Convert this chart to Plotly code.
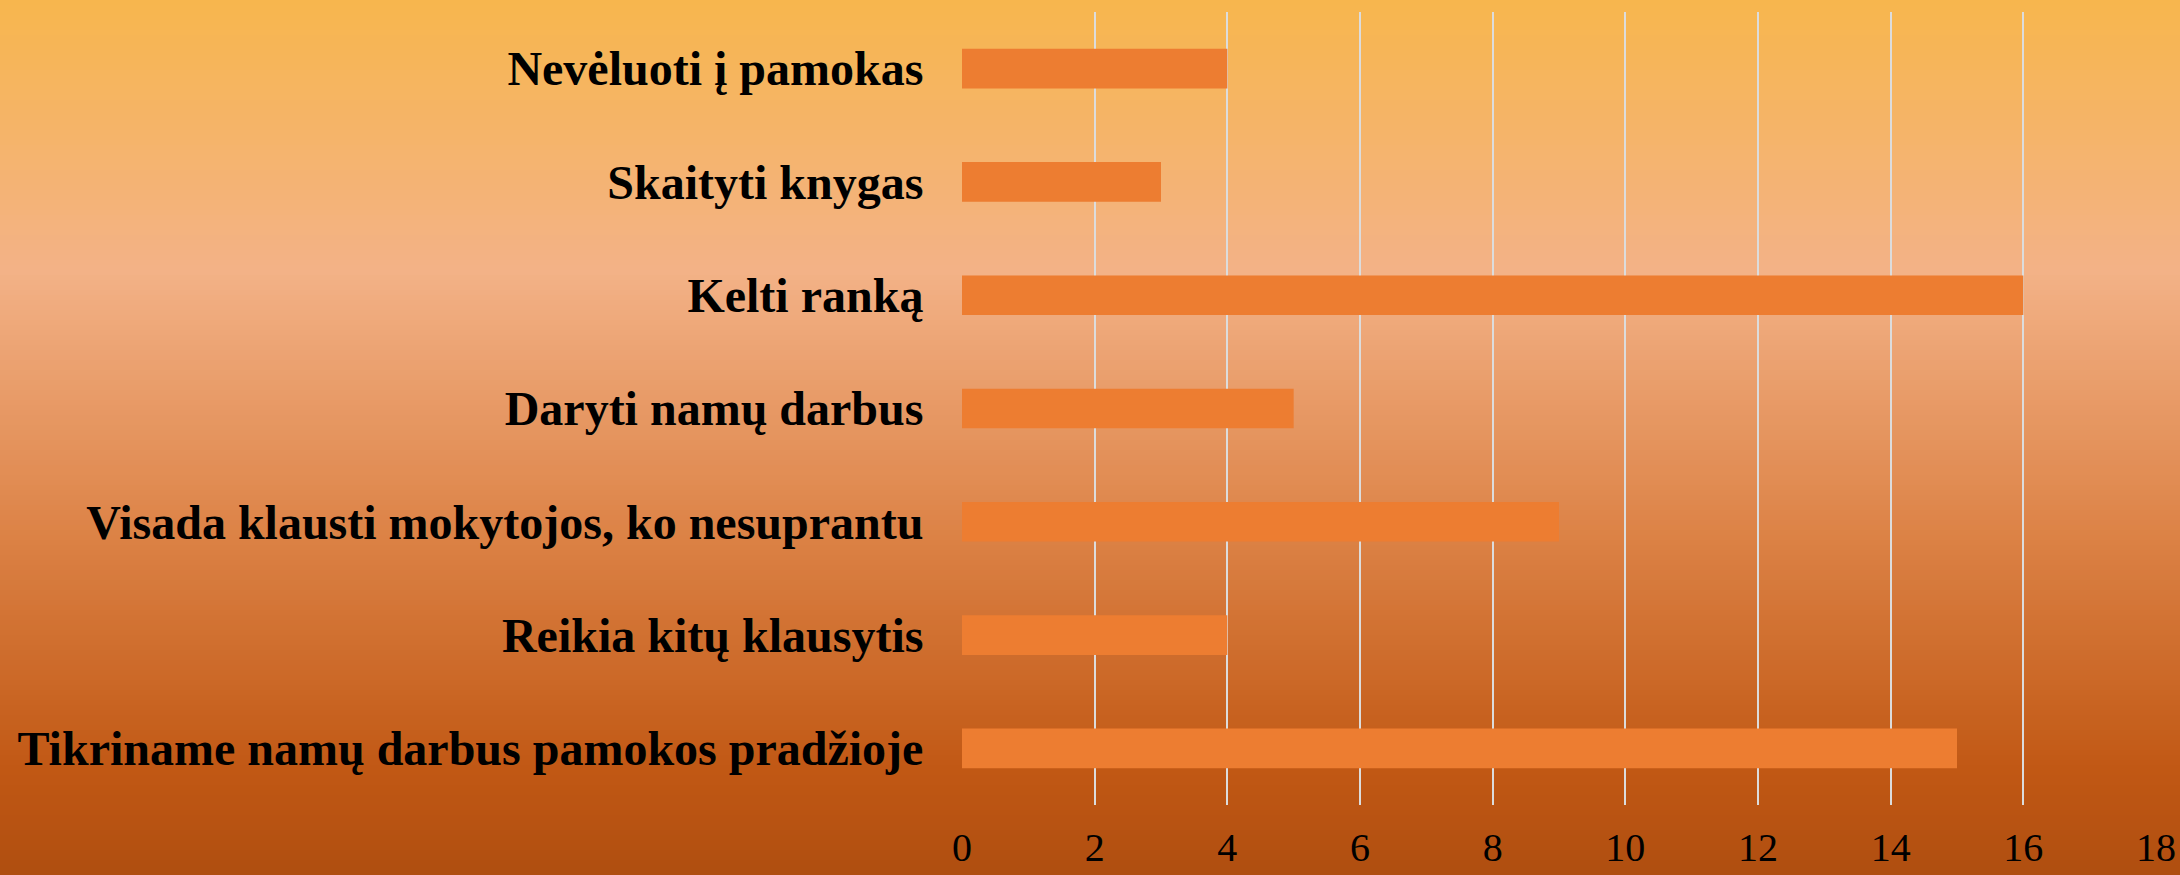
import plotly.graph_objects as go

categories = [
    "Nevėluoti į pamokas",
    "Skaityti knygas",
    "Kelti ranką",
    "Daryti namų darbus",
    "Visada klausti mokytojos, ko nesuprantu",
    "Reikia kitų klausytis",
    "Tikriname namų darbus pamokos pradžioje",
]
values = [4, 3, 16, 5, 9, 4, 15]
x_ticks = [0, 2, 4, 6, 8, 10, 12, 14, 16, 18]

W, H = 2180, 875
ML, MR, MT, MB = 962, 24, 12, 70
pw = W - ML - MR
ph = H - MT - MB

# background gradient stops (fraction from top, rgb)
stops = [
    (0.0, (247, 182, 77)),
    (0.31, (243, 178, 135)),
    (0.60, (221, 132, 72)),
    (0.88, (193, 88, 20)),
    (1.0, (175, 78, 16)),
]

def col(t):
    for (t0, c0), (t1, c1) in zip(stops[:-1], stops[1:]):
        if t <= t1:
            f = (t - t0) / (t1 - t0)
            return "rgb(%d,%d,%d)" % tuple(round(a + (b - a) * f) for a, b in zip(c0, c1))
    return "rgb(%d,%d,%d)" % stops[-1][1]

shapes = []
n = 175
step = H / n
for i in range(n):
    y_top = i * step
    y_bot = min(H, (i + 1) * step + 1)
    shapes.append(dict(
        type="rect", xref="paper", yref="paper", layer="below",
        x0=-ML / pw, x1=(W - ML) / pw,
        y0=(H - MB - y_bot) / ph, y1=(H - MB - y_top) / ph,
        fillcolor=col((i + 0.5) / n), line=dict(width=0),
    ))

fig = go.Figure(go.Bar(
    x=values, y=categories, orientation="h",
    marker=dict(color="#ED7D31", line=dict(width=0)),
))

fig.update_layout(
    width=W, height=H,
    margin=dict(l=ML, r=MR, t=MT, b=MB),
    paper_bgcolor="rgb(221,132,72)",
    plot_bgcolor="rgba(0,0,0,0)",
    shapes=shapes,
    bargap=0.65,
    showlegend=False,
    font=dict(family="Liberation Serif", color="black"),
)
fig.update_xaxes(
    range=[0, 18], tickvals=x_ticks, ticktext=[str(v) for v in x_ticks],
    showgrid=True, gridcolor="#DCDCDC", gridwidth=2,
    zeroline=False, showline=False, automargin=False,
    ticks="outside", ticklen=7, tickcolor="rgba(0,0,0,0)",
    tickfont=dict(family="Liberation Serif", size=40, color="black"),
)
fig.update_yaxes(
    autorange="reversed", showgrid=False, zeroline=False, showline=False,
    automargin=False,
    ticks="outside", ticklen=28, tickcolor="rgba(0,0,0,0)",
    tickfont=dict(family="Liberation Serif", size=48, color="black", weight="bold"),
)

fig.write_html(
    "out.html",
    config={"displayModeBar": False},
    post_script="document.body.style.margin='0';document.body.style.overflow='hidden';",
)
